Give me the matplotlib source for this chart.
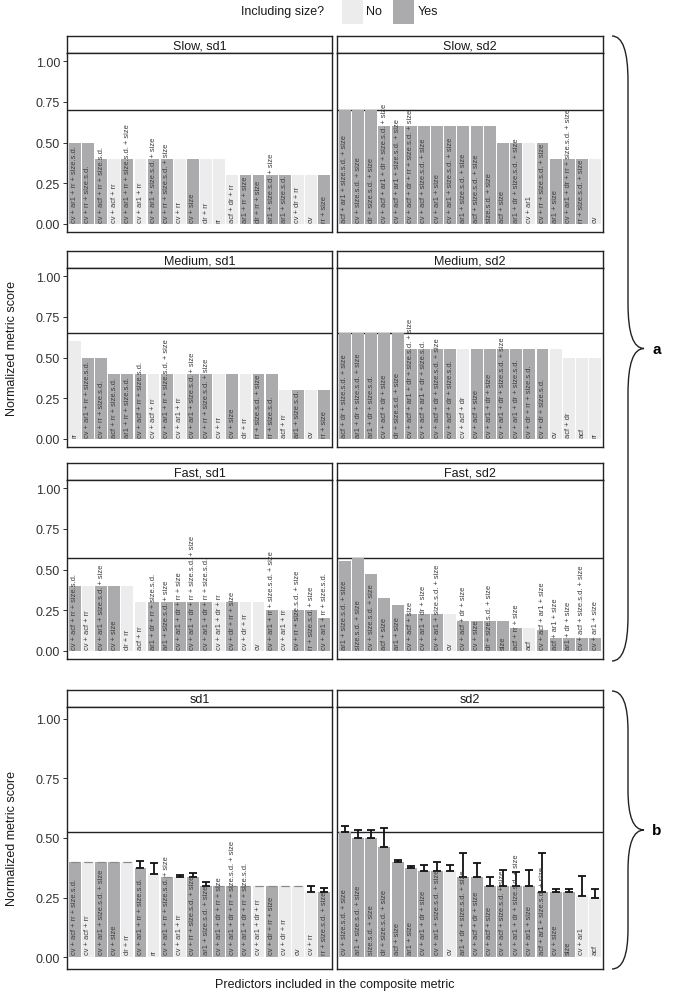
import matplotlib
matplotlib.use("Agg")
import matplotlib.pyplot as plt
from matplotlib.patches import Rectangle, PathPatch
from matplotlib.path import Path
import numpy as np

plt.rcParams['font.family'] = ['Liberation Sans', 'DejaVu Sans']

# ---------------- data ----------------
slow_sd1_labels = ["cv + ar1 + rr + size.s.d.", "cv + rr + size.s.d.", "cv + acf + rr + size.s.d.", "cv + acf + rr",
                   "cv + ar1 + rr + size.s.d. + size", "cv + ar1 + rr", "cv + ar1 + size.s.d. + size",
                   "cv + rr + size.s.d. + size", "cv + rr", "cv + size", "dr + rr", "rr", "acf + dr + rr",
                   "ar1 + rr + size", "dr + rr + size", "ar1 + size.s.d. + size", "ar1 + size.s.d.",
                   "cv + dr + rr", "cv", "rr + size"]
slow_sd1_values = [0.5, 0.5, 0.4, 0.4, 0.4, 0.4, 0.4, 0.4, 0.4, 0.4, 0.4, 0.4,
                   0.3, 0.3, 0.3, 0.3, 0.3, 0.3, 0.3, 0.3]

slow_sd2_labels = ["acf + ar1 + size.s.d. + size", "cv + size.s.d. + size", "dr + size.s.d. + size",
                   "cv + acf + ar1 + dr + size.s.d. + size", "cv + acf + ar1 + size.s.d. + size",
                   "cv + acf + dr + rr + size.s.d. + size", "cv + acf + size.s.d. + size", "cv + ar1 + size",
                   "cv + ar1 + size.s.d. + size", "ar1 + size.s.d. + size", "acf + size.s.d. + size",
                   "size.s.d. + size", "acf + size", "ar1 + dr + size.s.d. + size", "cv + ar1",
                   "cv + rr + size.s.d. + size", "ar1 + size", "cv + ar1 + dr + rr + size.s.d. + size",
                   "rr + size.s.d. + size", "cv"]
slow_sd2_values = [0.7, 0.7, 0.7, 0.6, 0.6, 0.6, 0.6, 0.6, 0.6, 0.6, 0.6, 0.6,
                   0.5, 0.5, 0.5, 0.5, 0.4, 0.4, 0.4, 0.4]

medium_sd1_labels = ["rr", "cv + ar1 + rr + size.s.d.", "cv + rr + size.s.d.", "acf + rr + size.s.d.",
                     "ar1 + rr + size.s.d.", "cv + acf + rr + size.s.d.", "cv + acf + rr",
                     "cv + ar1 + rr + size.s.d. + size", "cv + ar1 + rr", "cv + ar1 + size.s.d. + size",
                     "cv + rr + size.s.d. + size", "cv + rr", "cv + size", "dr + rr", "rr + size.s.d. + size",
                     "rr + size.s.d.", "acf + rr", "ar1 + size.s.d.", "cv", "rr + size"]
medium_sd1_values = [0.6, 0.5, 0.5, 0.4, 0.4, 0.4, 0.4, 0.4, 0.4, 0.4, 0.4, 0.4, 0.4, 0.4, 0.4, 0.4,
                     0.3, 0.3, 0.3, 0.3]

medium_sd2_labels = ["acf + dr + size.s.d. + size", "ar1 + dr + size.s.d. + size", "ar1 + dr + size.s.d.",
                     "cv + acf + dr + size", "dr + size.s.d. + size", "cv + acf + ar1 + dr + size.s.d. + size",
                     "cv + acf + ar1 + dr + size.s.d.", "cv + acf + dr + size.s.d. + size",
                     "cv + acf + dr + size.s.d.", "cv + acf + dr", "cv + acf + size", "cv + ar1 + dr + size",
                     "cv + ar1 + dr + size.s.d. + size", "cv + ar1 + dr + size.s.d.",
                     "cv + dr + rr + size.s.d.", "cv + dr + size.s.d.", "cv", "acf + dr", "acf", "rr"]
medium_sd2_values = [0.65, 0.65, 0.65, 0.65, 0.65, 0.55, 0.55, 0.55, 0.55, 0.55, 0.55, 0.55, 0.55,
                     0.55, 0.55, 0.55, 0.55, 0.5, 0.5, 0.5]

fast_sd1_labels = ["cv + acf + rr + size.s.d.", "cv + acf + rr", "cv + ar1 + size.s.d. + size", "cv + size",
                   "dr + rr", "acf + rr", "ar1 + dr + rr + size.s.d.", "ar1 + size.s.d. + size",
                   "cv + ar1 + dr + rr + size", "cv + ar1 + dr + rr + size.s.d. + size",
                   "cv + ar1 + dr + rr + size.s.d.", "cv + ar1 + dr + rr", "cv + dr + rr + size",
                   "cv + dr + rr", "cv", "cv + ar1 + rr + size.s.d. + size", "cv + ar1 + rr",
                   "cv + rr + size.s.d. + size", "rr + size.s.d. + size", "cv + ar1 + rr + size.s.d."]
fast_sd1_values = [0.4, 0.4, 0.4, 0.4, 0.4, 0.3, 0.3, 0.3, 0.3, 0.3, 0.3, 0.3, 0.3, 0.3, 0.3,
                   0.25, 0.25, 0.25, 0.25, 0.2]

fast_sd2_labels = ["ar1 + size.s.d. + size", "size.s.d. + size", "cv + size.s.d. + size", "acf + size",
                   "ar1 + size", "cv + acf + size", "cv + ar1 + dr + size", "cv + ar1 + size.s.d. + size", "cv",
                   "cv + acf + dr + size", "cv + size", "dr + size.s.d. + size", "size", "acf + rr + size",
                   "acf", "cv + acf + ar1 + size", "acf + ar1 + size", "ar1 + dr + size",
                   "cv + acf + size.s.d. + size", "cv + ar1 + size"]
fast_sd2_values = [0.555, 0.571, 0.473, 0.327, 0.284, 0.224, 0.224, 0.224, 0.224, 0.184, 0.184, 0.184,
                   0.184, 0.141, 0.141, 0.127, 0.082, 0.082, 0.082, 0.082]

all_sd1_labels = ["cv + acf + rr + size.s.d.", "cv + acf + rr", "cv + ar1 + size.s.d. + size", "cv + size",
                  "dr + rr", "cv + ar1 + rr + size.s.d.", "rr", "cv + ar1 + rr + size.s.d. + size",
                  "cv + ar1 + rr", "cv + rr + size.s.d. + size", "ar1 + size.s.d. + size",
                  "cv + ar1 + dr + rr + size", "cv + ar1 + dr + rr + size.s.d. + size",
                  "cv + ar1 + dr + rr + size.s.d.", "cv + ar1 + dr + rr", "cv + dr + rr + size",
                  "cv + dr + rr", "cv", "cv + rr", "rr + size.s.d. + size"]
all_sd1_values = [0.40, 0.40, 0.40, 0.40, 0.40, 0.372, 0.349, 0.335, 0.335, 0.335, 0.30, 0.30, 0.30,
                  0.30, 0.30, 0.30, 0.30, 0.30, 0.273, 0.273]
all_sd1_err = [0.0, 0.0, 0.0, 0.0, 0.0, 0.03, 0.048, 0.0, 0.01, 0.018, 0.017, 0.0, 0.0, 0.0, 0.0, 0.0,
               0.0, 0.0, 0.025, 0.017]

all_sd2_labels = ["cv + size.s.d. + size", "ar1 + size.s.d. + size", "size.s.d. + size",
                  "dr + size.s.d. + size", "acf + size", "ar1 + size", "cv + ar1 + dr + size",
                  "cv + ar1 + size.s.d. + size", "cv", "ar1 + dr + size.s.d. + size", "cv + acf + dr + size",
                  "cv + acf + size", "cv + acf + size.s.d. + size", "cv + ar1 + dr + size.s.d. + size",
                  "cv + ar1 + size", "acf + ar1 + size.s.d. + size", "cv + size", "size", "cv + ar1", "acf"]
all_sd2_values = [0.524, 0.499, 0.499, 0.461, 0.398, 0.374, 0.36, 0.36, 0.36, 0.335, 0.335, 0.297,
                  0.297, 0.297, 0.297, 0.272, 0.272, 0.272, 0.258, 0.247]
all_sd2_err = [0.025, 0.036, 0.036, 0.08, 0.01, 0.01, 0.027, 0.04, 0.027, 0.102, 0.06, 0.041, 0.069,
               0.059, 0.069, 0.165, 0.014, 0.014, 0.084, 0.039]

legend_title = "Including size?"
legend_labels = ["No", "Yes"]
y_ticks = [0.0, 0.25, 0.5, 0.75, 1.0]

# ---------------- style ----------------
W, H = 685, 995
LIGHT = "#ececec"
DARK = "#ababad"
TXT = "#3c3c3c"

fig = plt.figure(figsize=(W / 100, H / 100), dpi=100)


def rect(l, t, r, b):
    return [l / W, 1 - b / H, (r - l) / W, (b - t) / H]


def draw_panel(l, t, r, b, title, labels, values, err=None, left=True, strip_h=17):
    sax = fig.add_axes(rect(l, t - strip_h, r, t))
    sax.set_xticks([]); sax.set_yticks([])
    for s in sax.spines.values():
        s.set_linewidth(1.0); s.set_color("#222222")
    sax.text(0.5, 0.45, title, ha="center", va="center", fontsize=9, color="#1a1a1a",
             transform=sax.transAxes)
    ax = fig.add_axes(rect(l, t, r, b))
    x = np.arange(len(values))
    cols = [DARK if "size" in lab else LIGHT for lab in labels]
    ax.bar(x, values, width=0.9, color=cols, zorder=2)
    if err is not None:
        err = np.asarray(err)
        vals = np.asarray(values)
        nz = err > 0
        ax.errorbar(x[nz], vals[nz], yerr=[np.zeros(nz.sum()), err[nz]], fmt="none", ecolor="#111111",
                    elinewidth=1.3, capsize=2.8, capthick=1.3, zorder=3)
        ax.errorbar(x[~nz], vals[~nz], yerr=[np.zeros((~nz).sum()), err[~nz]], fmt="none",
                    ecolor="#8a8a8a", elinewidth=0.8, capsize=2.8, capthick=0.8, zorder=3)
    for xi, lab in zip(x, labels):
        ax.text(xi, 0.012, lab, rotation=90, ha="center", va="bottom", fontsize=5.4, color=TXT,
                zorder=4)
    ax.set_xlim(-0.6, len(values) - 0.4)
    ax.set_ylim(-0.05, 1.05)
    ax.set_xticks([])
    ax.set_yticks(y_ticks)
    if left:
        ax.set_yticklabels(["0.00", "0.25", "0.50", "0.75", "1.00"], fontsize=9, color="#333333")
        ax.tick_params(axis="y", length=3, width=0.7, color="#333333", pad=2)
    else:
        ax.set_yticklabels([])
        ax.tick_params(axis="y", length=0)
    for s in ax.spines.values():
        s.set_linewidth(1.0); s.set_color("#222222")
    return ax


XL = (67, 332)
XR = (337, 603)
rows = [
    (54, 233, "Slow", (slow_sd1_labels, slow_sd1_values), (slow_sd2_labels, slow_sd2_values)),
    (269, 448, "Medium", (medium_sd1_labels, medium_sd1_values), (medium_sd2_labels, medium_sd2_values)),
    (481, 660, "Fast", (fast_sd1_labels, fast_sd1_values), (fast_sd2_labels, fast_sd2_values)),
]
for t, b, name, d1, d2 in rows:
    rowmax = max(max(d1[1]), max(d2[1]))
    a1 = draw_panel(XL[0], t, XL[1], b, f"{name}, sd1", d1[0], d1[1], left=True)
    a2 = draw_panel(XR[0], t, XR[1], b, f"{name}, sd2", d2[0], d2[1], left=False)
    for a in (a1, a2):
        a.axhline(rowmax, color="#222222", lw=1.0, zorder=1)

bt, bb = 708, 970
rowmax_b = max(max(all_sd1_values), max(all_sd2_values))
b1 = draw_panel(XL[0], bt, XL[1], bb, "sd1", all_sd1_labels, all_sd1_values, err=all_sd1_err, left=True)
b2 = draw_panel(XR[0], bt, XR[1], bb, "sd2", all_sd2_labels, all_sd2_values, err=all_sd2_err, left=False)
for a in (b1, b2):
    a.axhline(rowmax_b, color="#222222", lw=1.0, zorder=1)

fig.text(12 / W, 1 - 349 / H, "Normalized metric score", rotation=90, ha="center", va="center",
         fontsize=9, color="#1a1a1a")
fig.text(12 / W, 1 - 839 / H, "Normalized metric score", rotation=90, ha="center", va="center",
         fontsize=9, color="#1a1a1a")
fig.text(335 / W, 1 - 985 / H, "Predictors included in the composite metric", ha="center", va="center",
         fontsize=9, color="#1a1a1a")

fig.text(283 / W, 1 - 12 / H, legend_title, ha="center", va="center", fontsize=9, color="#1a1a1a")
fig.patches.append(Rectangle((342 / W, 1 - 25 / H), 21 / W, 24 / H, transform=fig.transFigure,
                             facecolor=LIGHT, edgecolor="none"))
fig.text(366 / W, 1 - 12 / H, legend_labels[0], ha="left", va="center", fontsize=9, color="#1a1a1a")
fig.patches.append(Rectangle((393 / W, 1 - 25 / H), 21 / W, 24 / H, transform=fig.transFigure,
                             facecolor=DARK, edgecolor="none"))
fig.text(418 / W, 1 - 12 / H, legend_labels[1], ha="left", va="center", fontsize=9, color="#1a1a1a")


def brace(ytop, ybot, x0=612, xm=628, x1=644, d=45):
    ymid = (ytop + ybot) / 2
    pts = [(x0, ytop), (xm, ytop), (xm, ytop + d), (xm, ymid - d), (xm, ymid), (x1, ymid),
           (xm, ymid), (xm, ymid + d), (xm, ybot - d), (xm, ybot), (x0, ybot)]
    codes = [Path.MOVETO, Path.CURVE3, Path.CURVE3, Path.LINETO, Path.CURVE3, Path.CURVE3,
             Path.CURVE3, Path.CURVE3, Path.LINETO, Path.CURVE3, Path.CURVE3]
    pts = [(px / W, 1 - py / H) for px, py in pts]
    fig.patches.append(PathPatch(Path(pts, codes), transform=fig.transFigure, fill=False,
                                 edgecolor="#222222", lw=1.0))
    return ymid


ya = brace(37, 662)
fig.text(657 / W, 1 - ya / H, "a", ha="center", va="center", fontsize=11, fontweight="bold")
yb = brace(692, 970, d=40)
fig.text(657 / W, 1 - yb / H, "b", ha="center", va="center", fontsize=11, fontweight="bold")

fig.savefig("out.png", dpi=100, facecolor="white")
